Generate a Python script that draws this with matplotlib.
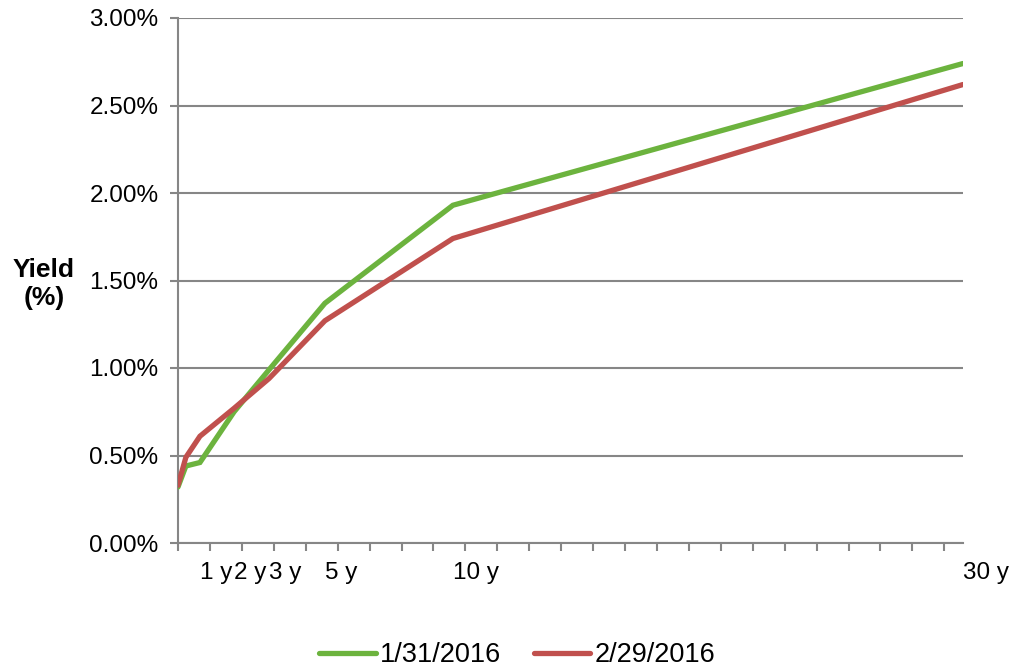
import numpy as np
import matplotlib.pyplot as plt

plt.rcParams['font.family'] = ['Liberation Sans', 'DejaVu Sans']

# ---- data ----
tenor_pos = [0.0, 0.31, 0.86, 2.2, 3.57, 5.76, 10.78, 30.78]   # horizontal position of each tenor
jan_2016 = [0.32, 0.44, 0.46, 0.75, 0.99, 1.37, 1.93, 2.74]     # yield %, 1/31/2016
feb_2016 = [0.33, 0.49, 0.61, 0.77, 0.94, 1.27, 1.74, 2.62]     # yield %, 2/29/2016
tick_labels = ['1 y', '2 y', '3 y', '5 y', '10 y', '30 y']
tick_idx = [2, 3, 4, 5, 6, 7]
y_ticks = [0.0, 0.5, 1.0, 1.5, 2.0, 2.5, 3.0]

GREEN = '#6cb33e'
RED = '#c0504d'
GRAY = '#868686'

fig = plt.figure(figsize=(10.1, 6.69), dpi=100)
ax = fig.add_axes([178 / 1010, 1 - 543 / 669, (963 - 178) / 1010, (543 - 18) / 669])

ax.plot(tenor_pos, jan_2016, color=GREEN, lw=3.8, solid_capstyle='round',
        solid_joinstyle='miter', label='1/31/2016', zorder=3)
ax.plot(tenor_pos, feb_2016, color=RED, lw=3.8, solid_capstyle='round',
        solid_joinstyle='miter', label='2/29/2016', zorder=3)

ax.set_xlim(0, 30.78)
ax.set_ylim(0, 3.0)

# y axis
ax.set_yticks(y_ticks)
ax.set_yticklabels([f'{v:.2f}%' for v in y_ticks], fontsize=17.5)
ax.yaxis.grid(True, color=GRAY, lw=1.5)
ax.set_axisbelow(True)

# x axis: ticks without labels, labels drawn as text at the tenors
ax.set_xticks(np.arange(25) * 1.252)
ax.set_xticklabels([])
ax.tick_params(axis='both', length=6, width=1.5, color=GRAY, direction='out')
ax.tick_params(axis='y', pad=8)

for s in ['top', 'right']:
    ax.spines[s].set_visible(False)
for s in ['left', 'bottom']:
    ax.spines[s].set_color(GRAY)
    ax.spines[s].set_linewidth(1.5)

for lab, i in zip(tick_labels, tick_idx):
    ax.text(tenor_pos[i], -0.057, lab, transform=ax.get_xaxis_transform(),
            ha='left', va='center', fontsize=17.5, clip_on=False)

fig.text(44 / 1010, 1 - 284 / 669, 'Yield\n(%)', ha='center', va='center',
         fontsize=19, fontweight='bold', linespacing=1.2)

fig.legend(loc='center', bbox_to_anchor=(0.512, 1 - 655 / 669), ncol=2, frameon=False,
           fontsize=19.5, handlelength=2.1, handletextpad=0.15, columnspacing=1.2)

fig.savefig('out.png', dpi=100)
